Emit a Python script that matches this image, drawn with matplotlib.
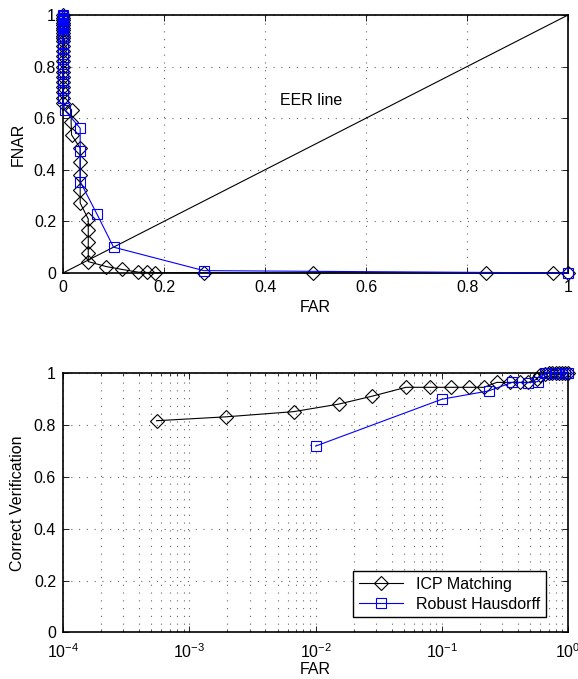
import matplotlib
matplotlib.use("Agg")
import matplotlib.pyplot as plt
import numpy as np

plt.rcParams['font.family'] = ['Liberation Sans', 'DejaVu Sans']
plt.rcParams['mathtext.fontset'] = 'custom'
plt.rcParams['mathtext.rm'] = 'Liberation Sans'
plt.rcParams['mathtext.it'] = 'Liberation Sans'

# ---- Top plot: FAR vs FNAR ----
icp_far = [0, 0, 0, 0, 0, 0, 0, 0, 0, 0, 0, 0, 0, 0, 0, 0, 0, 0, 0, 0, 0, 0, 0,
           0.017, 0.016, 0.017, 0.034, 0.034, 0.034, 0.034, 0.034,
           0.05, 0.05, 0.05, 0.05, 0.05, 0.085, 0.116, 0.149, 0.166, 0.182,
           0.279, 0.494, 0.838, 0.969, 1.0]
icp_fnar = [1.0, 0.99, 0.98, 0.97, 0.96, 0.95, 0.94, 0.93, 0.92, 0.91, 0.90, 0.88,
            0.86, 0.84, 0.82, 0.80, 0.78, 0.76, 0.74, 0.72, 0.70, 0.68, 0.66,
            0.632, 0.586, 0.535, 0.484, 0.431, 0.38, 0.322, 0.271,
            0.209, 0.167, 0.121, 0.077, 0.044, 0.025, 0.014, 0.003, 0.002, 0.001,
            0.001, 0.0, 0.0, 0.0, 0.0]

rh_far = [0, 0, 0, 0, 0, 0, 0, 0, 0, 0, 0, 0, 0, 0, 0, 0, 0, 0, 0, 0, 0, 0, 0, 0,
          0.003, 0.034, 0.034, 0.034, 0.067, 0.1, 0.279, 1.0]
rh_fnar = [1.0, 0.995, 0.99, 0.985, 0.98, 0.975, 0.97, 0.965, 0.96, 0.955, 0.95,
           0.94, 0.93, 0.92, 0.91, 0.89, 0.87, 0.85, 0.83, 0.80, 0.77, 0.74, 0.71, 0.68,
           0.632, 0.561, 0.474, 0.354, 0.229, 0.1, 0.009, 0.0]

eer_x = [0, 1]
eer_y = [0, 1]

# ---- Bottom plot: ROC (log FAR) ----
icp_roc_far = [5.5e-4, 1.95e-3, 6.7e-3, 0.0152, 0.0282, 0.052, 0.0807, 0.118,
               0.164, 0.216, 0.272, 0.348, 0.417, 0.484, 0.565, 0.6, 0.65,
               0.7, 0.75, 0.8, 0.85, 0.9, 0.95, 1.0]
icp_roc_cv = [0.817, 0.832, 0.852, 0.881, 0.912, 0.946, 0.946, 0.946,
              0.946, 0.946, 0.965, 0.965, 0.965, 0.965, 0.977, 0.993, 0.997,
              1.0, 1.0, 1.0, 1.0, 1.0, 1.0, 1.0]

rh_roc_far = [0.01, 0.1, 0.234, 0.362, 0.485, 0.575, 0.65, 0.7, 0.75, 0.8,
              0.85, 0.9, 0.95, 1.0]
rh_roc_cv = [0.719, 0.9, 0.932, 0.965, 0.964, 0.968, 1.0, 1.0, 1.0, 1.0,
             1.0, 1.0, 1.0, 1.0]

fig = plt.figure(figsize=(5.78, 6.79), dpi=100)
ax1 = fig.add_axes([0.109, 0.598, 0.874, 0.380])
ax2 = fig.add_axes([0.109, 0.0687, 0.874, 0.3815])

FS = 11.5
grid_ls = (0, (1, 6))

def style(ax):
    ax.tick_params(direction='in', top=True, right=True, labelsize=FS, length=4,
                   width=0.6, pad=5)
    ax.tick_params(which='minor', direction='in', top=True, right=True, length=2.5, width=0.5)
    for s in ax.spines.values():
        s.set_linewidth(1.2)

lw = 0.8
ax1.plot(eer_x, eer_y, color='black', lw=lw)
ax1.plot(icp_far, icp_fnar, color='black', lw=lw, marker='D', markersize=7,
         markerfacecolor='none', markeredgewidth=0.8, clip_on=False, zorder=3)
ax1.plot(rh_far, rh_fnar, color='blue', lw=lw, marker='s', markersize=6.5,
         markerfacecolor='none', markeredgewidth=0.8, clip_on=False, zorder=4)
ax1.text(0.43, 0.67, 'EER line', fontsize=FS, va='center', ha='left')
ax1.set_xlim(0, 1)
ax1.set_ylim(0, 1)
ax1.set_xticks(np.arange(0, 1.01, 0.2))
ax1.set_yticks(np.arange(0, 1.01, 0.2))
ax1.set_xticklabels(['0', '0.2', '0.4', '0.6', '0.8', '1'])
ax1.set_yticklabels(['0', '0.2', '0.4', '0.6', '0.8', '1'])
ax1.grid(True, linestyle=grid_ls, color='0.4', lw=0.8)
ax1.set_xlabel('FAR', fontsize=FS, labelpad=4)
ax1.set_ylabel('FNAR', fontsize=FS, labelpad=6)
style(ax1)

ax2.set_xscale('log')
ax2.plot(icp_roc_far, icp_roc_cv, color='black', lw=lw, marker='D', markersize=7,
         markerfacecolor='none', markeredgewidth=0.8, clip_on=False, zorder=3,
         label='ICP Matching')
ax2.plot(rh_roc_far, rh_roc_cv, color='blue', lw=lw, marker='s', markersize=6.5,
         markerfacecolor='none', markeredgewidth=0.8, clip_on=False, zorder=4,
         label='Robust Hausdorff')
ax2.set_xlim(1e-4, 1)
ax2.set_ylim(0, 1)
ax2.set_xticks([1e-4, 1e-3, 1e-2, 1e-1, 1])
ax2.set_yticks(np.arange(0, 1.01, 0.2))
ax2.set_yticklabels(['0', '0.2', '0.4', '0.6', '0.8', '1'])
ax2.grid(True, which='major', linestyle=grid_ls, color='0.4', lw=0.8)
ax2.grid(True, which='minor', axis='x', linestyle=grid_ls, color='0.4', lw=0.8)
ax2.set_xlabel('FAR', fontsize=FS, labelpad=1)
ax2.set_ylabel('Correct Verification', fontsize=FS, labelpad=6)
style(ax2)
ax2.tick_params(axis='x', which='major', pad=7)
leg = ax2.legend(loc='lower right', bbox_to_anchor=(0.956, 0.058), fontsize=FS,
                 fancybox=False, edgecolor='black', framealpha=1, borderaxespad=0,
                 handlelength=2.8, borderpad=0.35, labelspacing=0.3)
leg.get_frame().set_linewidth(1.0)

fig.savefig('out.png', dpi=100)
